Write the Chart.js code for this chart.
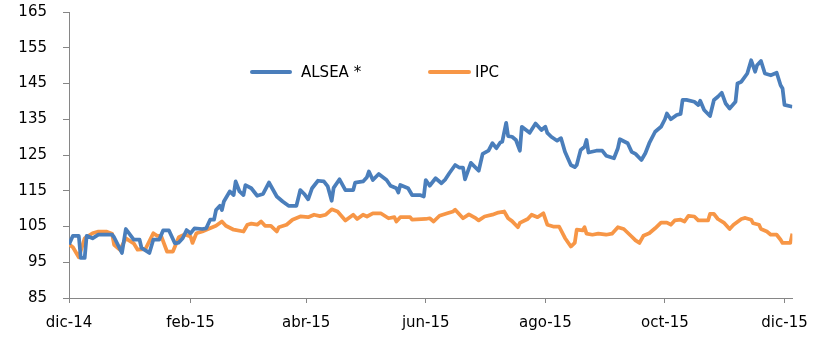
<!DOCTYPE html>
<html>
<head>
<meta charset="utf-8">
<title>ALSEA * vs IPC</title>
<script src="https://cdn.jsdelivr.net/npm/chart.js@4.4.1/dist/chart.umd.min.js"></script>
<style>
  html, body { margin: 0; padding: 0; background: #fff; }
  #wrap { width: 819px; height: 353px; position: relative; }
</style>
</head>
<body>
<div id="wrap"><canvas id="chart"></canvas></div>
<script>
// days counted from 1 dic 2014
const tickDays = [0, 62, 121, 182, 243, 304, 365];
const tickLabels = ['dic-14', 'feb-15', 'abr-15', 'jun-15', 'ago-15', 'oct-15', 'dic-15'];

const alseaDays = [0, 2, 5, 6, 8, 9, 12, 15, 22, 23, 27, 29, 33, 36, 37, 41, 43, 46, 48, 51, 54, 56, 58, 60, 62, 64, 68, 70, 72, 74, 75, 77, 78, 79, 82, 84, 85, 87, 89, 90, 93, 96, 99, 102, 106, 109, 112, 116, 118, 120, 122, 124, 127, 130, 132, 134, 135, 138, 141, 145, 146, 150, 152, 153, 155, 158, 162, 164, 167, 168, 169, 173, 175, 179, 181, 182, 184, 187, 190, 192, 194, 197, 199, 201, 202, 205, 209, 211, 214, 216, 218, 220, 221, 223, 224, 226, 228, 230, 231, 235, 238, 241, 243, 244, 246, 249, 251, 253, 256, 258, 259, 261, 263, 264, 265, 269, 272, 274, 278, 280, 281, 285, 287, 289, 292, 294, 296, 299, 302, 304, 305, 307, 310, 312, 313, 315, 319, 321, 322, 324, 327, 329, 331, 333, 335, 337, 340, 341, 343, 346, 348, 350, 351, 353, 355, 358, 361, 363, 364, 365, 369];
const alseaValues = [100, 102.4, 102.4, 96.2, 96.2, 102.4, 101.7, 102.7, 102.7, 102, 97.6, 104.3, 101.3, 101.3, 99, 97.6, 101.3, 101.3, 103.9, 103.9, 100.3, 100.5, 101.7, 104, 103.1, 104.5, 104.3, 104.5, 106.9, 106.9, 109.6, 110.8, 109.6, 112, 114.8, 113.8, 117.6, 114.8, 113.8, 116.6, 115.7, 113.6, 114.1, 117.3, 113.4, 112, 110.8, 110.8, 115.2, 114.1, 112.6, 115.7, 117.8, 117.6, 116.2, 112.2, 115.8, 118.2, 115.2, 115.2, 117.3, 117.6, 118.8, 120.4, 118, 119.7, 118, 116.4, 115.7, 114.5, 116.6, 115.7, 113.8, 113.8, 113.4, 118, 116.4, 118.5, 117.1, 118.2, 119.9, 122.2, 121.5, 121.5, 118.2, 122.8, 120.6, 125.3, 126.2, 128.3, 126.9, 128.5, 128.7, 134, 130.3, 130.1, 129.2, 126.2, 132.9, 131.2, 133.8, 132, 132.9, 131.2, 130.1, 129, 129.7, 125.9, 122.2, 121.6, 122.2, 126.4, 127.3, 129.2, 125.7, 126.2, 126.2, 124.8, 124.1, 126.9, 129.4, 128.3, 125.9, 125.3, 123.6, 125.5, 128.3, 131.5, 132.9, 135, 136.6, 135, 136.2, 136.5, 140.4, 140.4, 139.9, 139, 140.2, 137.6, 135.9, 140.4, 141.3, 142.4, 139.4, 138, 139.9, 145, 145.5, 147.8, 151.5, 148.3, 150.1, 151.3, 147.8, 147.3, 148, 144.5, 143.6, 139, 138.5];

const ipcDays = [0, 2, 5, 8, 12, 15, 19, 22, 23, 26, 29, 33, 35, 39, 43, 45, 47, 50, 53, 56, 59, 62, 63, 65, 68, 71, 75, 78, 80, 84, 89, 91, 93, 96, 98, 100, 103, 106, 107, 111, 114, 118, 122, 125, 128, 131, 134, 137, 141, 145, 147, 150, 152, 155, 159, 163, 166, 167, 169, 174, 175, 182, 184, 186, 189, 193, 196, 197, 201, 204, 207, 209, 212, 216, 219, 222, 224, 226, 229, 230, 234, 236, 239, 242, 244, 247, 250, 253, 256, 258, 259, 262, 263, 264, 267, 270, 274, 277, 280, 283, 287, 289, 291, 293, 296, 299, 302, 305, 307, 309, 312, 314, 316, 319, 321, 326, 327, 329, 331, 334, 337, 339, 343, 345, 348, 349, 352, 353, 356, 358, 361, 363, 364, 368, 369];
const ipcValues = [100, 99.2, 96.4, 101.7, 103.1, 103.6, 103.6, 103, 99.9, 98.5, 101.7, 100.3, 98.5, 98.7, 103.1, 102.4, 102.4, 98, 98, 102, 102.8, 102.2, 100.4, 103.1, 103.6, 104.3, 105.2, 106.4, 105.2, 104.1, 103.6, 105.5, 105.8, 105.5, 106.4, 105.2, 105.2, 103.6, 104.8, 105.5, 106.9, 107.8, 107.6, 108.3, 107.9, 108.3, 109.8, 109.2, 106.7, 108.3, 107.1, 108.3, 107.8, 108.7, 108.7, 107.3, 107.6, 106.4, 107.6, 107.6, 106.9, 107.1, 107.3, 106.4, 108, 108.7, 109.2, 109.7, 107.3, 108.4, 107.5, 106.7, 107.8, 108.3, 108.9, 109.2, 107.3, 106.5, 104.8, 106, 107.1, 108.3, 107.6, 108.7, 105.5, 105, 105, 101.8, 99.4, 100.4, 104.1, 103.9, 104.8, 103, 102.7, 103, 102.7, 103, 104.8, 104.3, 102.2, 101.1, 100.4, 102.4, 103.1, 104.5, 106.1, 106.1, 105.5, 106.7, 106.9, 106.4, 108, 107.8, 106.7, 106.7, 108.5, 108.5, 107.1, 106.1, 104.3, 105.5, 107.1, 107.4, 106.9, 105.9, 105.5, 104.3, 103.6, 102.7, 102.7, 101.3, 100.4, 100.4, 103];

const toPoints = (days, vals) => days.map((d, i) => ({ x: d, y: vals[i] }));

const FONT = "Verdana, 'DejaVu Sans', sans-serif";
const AXIS_GREY = '#868686';

// legend drawn inside the plot, like the original
const inlineLegend = {
    id: 'inlineLegend',
    afterDatasetsDraw(chart, args, opts) {
        const ctx = chart.ctx;
        ctx.save();
        ctx.font = '15px ' + FONT;
        ctx.textBaseline = 'middle';
        ctx.fillStyle = '#000';
        chart.data.datasets.forEach((ds, i) => {
            const it = opts.items[i];
            ctx.strokeStyle = ds.borderColor;
            ctx.lineWidth = 4;
            ctx.lineCap = 'round';
            ctx.beginPath();
            ctx.moveTo(it.x0, opts.y);
            ctx.lineTo(it.x1, opts.y);
            ctx.stroke();
            ctx.fillText(ds.label, it.tx, opts.y + 1);
        });
        ctx.restore();
    }
};

new Chart(document.getElementById('chart'), {
    type: 'line',
    data: {
        datasets: [
            {
                label: 'ALSEA *',
                data: toPoints(alseaDays, alseaValues),
                borderColor: '#4A7EBB',
                borderWidth: 3.75,
                pointRadius: 0,
                tension: 0,
                borderJoinStyle: 'round'
            },
            {
                label: 'IPC',
                data: toPoints(ipcDays, ipcValues),
                borderColor: '#F79646',
                borderWidth: 3.75,
                pointRadius: 0,
                tension: 0,
                borderJoinStyle: 'round'
            }
        ]
    },
    options: {
        responsive: true,
        maintainAspectRatio: false,
        animation: false,
        events: [],
        layout: { padding: { top: 12, right: 25, left: 0, bottom: 0 } },
        plugins: {
            legend: { display: false },
            tooltip: { enabled: false },
            inlineLegend: {
                y: 72,
                items: [
                    { x0: 252, x1: 290, tx: 301 },
                    { x0: 430, x1: 469, tx: 475 }
                ]
            }
        },
        scales: {
            x: {
                type: 'linear',
                min: 0,
                max: 369,
                afterBuildTicks: (scale) => {
                    scale.ticks = tickDays.map(d => ({ value: d }));
                },
                afterFit: (scale) => { scale.height = 55; },
                ticks: {
                    autoSkip: false,
                    maxRotation: 0,
                    padding: 11,
                    color: '#000',
                    font: { family: FONT, size: 15 },
                    callback: (v) => tickLabels[tickDays.indexOf(v)]
                },
                grid: { display: true, drawOnChartArea: false, tickLength: 5, color: AXIS_GREY },
                border: { display: true, color: AXIS_GREY, width: 1 }
            },
            y: {
                min: 85,
                max: 165,
                afterFit: (scale) => {
                    scale.width = 69;
                    // tick padding is only meant horizontally here
                    scale.paddingTop = 9;
                    scale.paddingBottom = 9;
                },
                ticks: {
                    stepSize: 10,
                    padding: 16,
                    color: '#000',
                    font: { family: FONT, size: 15 }
                },
                grid: { display: true, drawOnChartArea: false, tickLength: 6, color: AXIS_GREY },
                border: { display: true, color: AXIS_GREY, width: 1 }
            }
        }
    },
    plugins: [inlineLegend]
});
</script>
</body>
</html>
